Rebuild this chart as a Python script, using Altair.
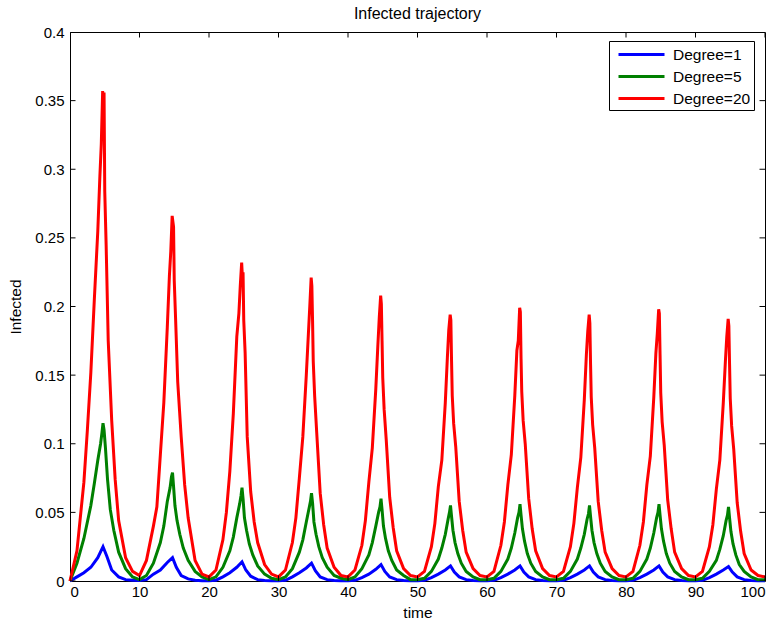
import altair as alt
import pandas as pd

FONT = "Liberation Sans"

series_labels = ["Degree=1", "Degree=5", "Degree=20"]
series_colors = ["#0000ff", "#008000", "#ff0000"]

x_ticks = [0, 10, 20, 30, 40, 50, 60, 70, 80, 90, 100]
y_ticks = [0, 0.05, 0.1, 0.15, 0.2, 0.25, 0.3, 0.35, 0.4]

cycle_starts = [0, 10, 20, 30, 40, 50, 60, 70, 80, 90]

# ---- Degree=20 (red) ----
red_offsets = [0, 1, 2, 2.5, 3, 3.5, 4, 4.3, 4.5, 4.7, 4.8, 4.9, 5.0, 5.2, 5.5, 6, 6.5, 7, 8, 9]
red_cycles = [
    [0.000, 0.022, 0.072, 0.110, 0.152, 0.205, 0.255, 0.295, 0.318, 0.357, 0.345, 0.356, 0.284, 0.245, 0.175, 0.117, 0.074, 0.044, 0.017, 0.007],
    [0.004, 0.015, 0.040, 0.054, 0.092, 0.130, 0.185, 0.222, 0.240, 0.266, 0.262, 0.258, 0.219, 0.190, 0.145, 0.105, 0.070, 0.046, 0.015, 0.005],
    [0.003, 0.008, 0.030, 0.050, 0.080, 0.122, 0.178, 0.195, 0.215, 0.232, 0.222, 0.225, 0.190, 0.166, 0.105, 0.065, 0.043, 0.028, 0.012, 0.005],
    [0.003, 0.008, 0.028, 0.046, 0.075, 0.105, 0.150, 0.180, 0.200, 0.221, 0.215, 0.190, 0.160, 0.135, 0.108, 0.064, 0.041, 0.024, 0.010, 0.004],
    [0.003, 0.008, 0.026, 0.044, 0.072, 0.097, 0.140, 0.172, 0.192, 0.208, 0.202, 0.175, 0.148, 0.125, 0.103, 0.061, 0.039, 0.022, 0.009, 0.004],
    [0.003, 0.007, 0.025, 0.042, 0.069, 0.088, 0.130, 0.163, 0.183, 0.194, 0.190, 0.160, 0.135, 0.115, 0.098, 0.058, 0.037, 0.021, 0.009, 0.004],
    [0.003, 0.007, 0.026, 0.043, 0.070, 0.092, 0.135, 0.168, 0.175, 0.199, 0.196, 0.162, 0.138, 0.117, 0.100, 0.060, 0.038, 0.022, 0.009, 0.004],
    [0.003, 0.007, 0.025, 0.042, 0.068, 0.090, 0.132, 0.165, 0.182, 0.194, 0.188, 0.158, 0.134, 0.114, 0.097, 0.058, 0.037, 0.021, 0.009, 0.004],
    [0.003, 0.007, 0.026, 0.043, 0.070, 0.091, 0.134, 0.166, 0.180, 0.198, 0.195, 0.165, 0.137, 0.116, 0.099, 0.059, 0.038, 0.021, 0.009, 0.004],
    [0.003, 0.007, 0.025, 0.041, 0.067, 0.088, 0.130, 0.160, 0.178, 0.191, 0.186, 0.158, 0.133, 0.113, 0.096, 0.057, 0.036, 0.020, 0.008, 0.004],
]
red_end = 0.003

# ---- Degree=5 (green) ----
green_offsets = [0, 1, 2, 3, 3.5, 4, 4.4, 4.6, 4.75, 4.9, 5.1, 5.4, 5.8, 6.3, 7, 8, 9]
green_cycles = [
    [0.000, 0.013, 0.031, 0.055, 0.071, 0.088, 0.100, 0.108, 0.115, 0.110, 0.097, 0.074, 0.052, 0.037, 0.021, 0.009, 0.003],
    [0.001, 0.004, 0.013, 0.028, 0.040, 0.058, 0.068, 0.076, 0.079, 0.069, 0.055, 0.044, 0.034, 0.024, 0.015, 0.007, 0.003],
    [0.001, 0.003, 0.010, 0.022, 0.032, 0.046, 0.056, 0.062, 0.068, 0.060, 0.046, 0.037, 0.027, 0.019, 0.011, 0.005, 0.002],
    [0.001, 0.003, 0.009, 0.021, 0.030, 0.043, 0.053, 0.058, 0.064, 0.057, 0.043, 0.034, 0.025, 0.017, 0.010, 0.004, 0.002],
    [0.001, 0.003, 0.009, 0.019, 0.028, 0.040, 0.050, 0.054, 0.060, 0.052, 0.040, 0.031, 0.022, 0.015, 0.008, 0.004, 0.001],
    [0.001, 0.002, 0.007, 0.016, 0.024, 0.034, 0.045, 0.050, 0.055, 0.047, 0.037, 0.028, 0.020, 0.013, 0.007, 0.003, 0.001],
    [0.001, 0.002, 0.007, 0.016, 0.024, 0.035, 0.046, 0.050, 0.056, 0.048, 0.038, 0.029, 0.020, 0.013, 0.007, 0.003, 0.001],
    [0.001, 0.002, 0.007, 0.016, 0.024, 0.034, 0.045, 0.049, 0.055, 0.047, 0.037, 0.028, 0.020, 0.013, 0.007, 0.003, 0.001],
    [0.001, 0.002, 0.007, 0.016, 0.024, 0.035, 0.046, 0.050, 0.056, 0.048, 0.038, 0.029, 0.020, 0.013, 0.007, 0.003, 0.001],
    [0.001, 0.002, 0.007, 0.015, 0.023, 0.033, 0.044, 0.048, 0.054, 0.046, 0.036, 0.027, 0.019, 0.012, 0.007, 0.003, 0.001],
]
green_end = 0.001

# ---- Degree=1 (blue) ----
blue_offsets = [0, 1, 2, 3, 4, 4.75, 5.3, 6, 7, 8, 9]
blue_cycles = [
    [0.0000, 0.0030, 0.0060, 0.0100, 0.0170, 0.0250, 0.0180, 0.0080, 0.0030, 0.0010, 0.0005],
    [0.0003, 0.0010, 0.0050, 0.0080, 0.0135, 0.0170, 0.0100, 0.0040, 0.0015, 0.0005, 0.0002],
    [0.0002, 0.0006, 0.0030, 0.0060, 0.0100, 0.0140, 0.0080, 0.0035, 0.0010, 0.0004, 0.0002],
    [0.0002, 0.0005, 0.0030, 0.0060, 0.0095, 0.0130, 0.0075, 0.0030, 0.0010, 0.0004, 0.0002],
    [0.0002, 0.0005, 0.0025, 0.0050, 0.0085, 0.0120, 0.0070, 0.0030, 0.0010, 0.0003, 0.0002],
    [0.0002, 0.0005, 0.0025, 0.0050, 0.0080, 0.0110, 0.0065, 0.0030, 0.0010, 0.0003, 0.0002],
    [0.0002, 0.0005, 0.0025, 0.0050, 0.0080, 0.0110, 0.0065, 0.0030, 0.0010, 0.0003, 0.0002],
    [0.0002, 0.0005, 0.0025, 0.0050, 0.0080, 0.0110, 0.0065, 0.0030, 0.0010, 0.0003, 0.0002],
    [0.0002, 0.0005, 0.0025, 0.0050, 0.0080, 0.0110, 0.0065, 0.0030, 0.0010, 0.0003, 0.0002],
    [0.0002, 0.0005, 0.0025, 0.0050, 0.0080, 0.0105, 0.0065, 0.0030, 0.0010, 0.0003, 0.0002],
]
blue_end = 0.0002


def build(label, offsets, cycles, end_value):
    rows = []
    for start, vals in zip(cycle_starts, cycles):
        for o, v in zip(offsets, vals):
            rows.append({"t": start + o, "v": v, "series": label})
    rows.append({"t": 100, "v": end_value, "series": label})
    return pd.DataFrame(rows)


df_blue = build("Degree=1", blue_offsets, blue_cycles, blue_end)
df_green = build("Degree=5", green_offsets, green_cycles, green_end)
df_red = build("Degree=20", red_offsets, red_cycles, red_end)

W, H = 695, 549

x_enc = alt.X(
    "t:Q",
    scale=alt.Scale(domain=[0, 100], nice=False, zero=False),
    axis=alt.Axis(values=x_ticks, title="time", labelPadding=3, titlePadding=6),
)
y_enc = alt.Y(
    "v:Q",
    scale=alt.Scale(domain=[0, 0.4], nice=False),
    axis=alt.Axis(values=y_ticks, format="~g", title="Infected", labelPadding=6, titlePadding=11),
)
color_enc = alt.Color(
    "series:N",
    scale=alt.Scale(domain=series_labels, range=series_colors),
    legend=alt.Legend(
        title=None,
        orient="none",
        legendX=539,
        legendY=9,
        padding=3,
        strokeColor="black",
        fillColor="white",
        cornerRadius=0,
        labelFont=FONT,
        labelFontSize=15.5,
        labelColor="black",
        labelOffset=40,
        labelExpr="datum.label + '\u00a0\u00a0'",
        symbolType="M-0.444,0H4.667",
        symbolStrokeWidth=3,
        symbolSize=324,
        rowPadding=3,
    ),
)


def line_layer(df):
    return alt.Chart(df).mark_line(strokeWidth=3).encode(x=x_enc, y=y_enc, color=color_enc)


xt_df = pd.DataFrame({"t": x_ticks})
yt_df = pd.DataFrame({"v": y_ticks})

tick_style = dict(clip=True, size=11, thickness=1, color="black", opacity=1)
tick_bottom = alt.Chart(xt_df).mark_tick(**tick_style).encode(x="t:Q", y=alt.value(H))
tick_top = alt.Chart(xt_df).mark_tick(**tick_style).encode(x="t:Q", y=alt.value(0))
tick_left = alt.Chart(yt_df).mark_tick(**tick_style).encode(y="v:Q", x=alt.value(0))
tick_right = alt.Chart(yt_df).mark_tick(**tick_style).encode(y="v:Q", x=alt.value(W))

chart = (
    alt.layer(
        line_layer(df_blue),
        line_layer(df_green),
        line_layer(df_red),
        tick_bottom,
        tick_top,
        tick_left,
        tick_right,
    )
    .properties(
        width=W,
        height=H,
        background="white",
        title=alt.TitleParams(
            "Infected trajectory",
            font=FONT,
            fontSize=16,
            fontWeight="normal",
            color="black",
            anchor="middle",
            frame="group",
            baseline="top",
            offset=3,
        ),
        autosize=alt.AutoSizeParams(type="none"),
        padding={"left": 70, "top": 32, "right": 12, "bottom": 39},
    )
    .configure_view(stroke="black", strokeWidth=1)
    .configure_axis(
        domain=False,
        ticks=False,
        grid=False,
        labelFont=FONT,
        labelFontSize=15,
        labelColor="black",
        titleFont=FONT,
        titleFontSize=15.5,
        titleFontWeight="normal",
        titleColor="black",
    )
)

chart.save("out.html", embed_options={"renderer": "svg", "actions": False})
